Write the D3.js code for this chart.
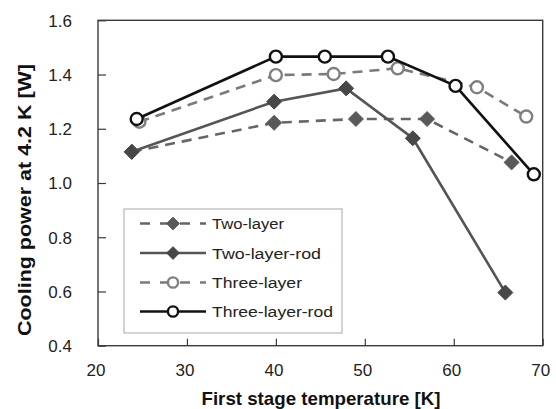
<!DOCTYPE html>
<html>
<head>
<meta charset="utf-8">
<script src="https://cdn.jsdelivr.net/npm/d3@7/dist/d3.min.js"></script>
<style>
  html, body { margin: 0; padding: 0; background: #fff; }
  svg { display: block; font-family: "Liberation Sans", Arial, sans-serif; }
</style>
</head>
<body>
<svg id="chart" width="556" height="409"></svg>
<script>
// Cooling power at 4.2 K versus first stage temperature
const twoLayerT   = [23.8, 39.8, 49.0, 57.0, 66.5];
const twoLayerP   = [1.115, 1.222, 1.236, 1.236, 1.076];
const twoRodT     = [23.8, 39.8, 47.9, 55.4, 65.8];
const twoRodP     = [1.115, 1.300, 1.349, 1.165, 0.596];
const threeLayerT = [24.65, 40.0, 46.5, 53.7, 62.6, 68.15];
const threeLayerP = [1.226, 1.398, 1.402, 1.423, 1.353, 1.245];
const threeRodT   = [24.35, 40.0, 45.5, 52.6, 60.2, 69.0];
const threeRodP   = [1.236, 1.466, 1.466, 1.466, 1.358, 1.032];

const xTicks = [20, 30, 40, 50, 60, 70];
const yTicks = [0.4, 0.6, 0.8, 1.0, 1.2, 1.4, 1.6];

const seriesNames = ["Two-layer", "Two-layer-rod", "Three-layer", "Three-layer-rod"];

const series = [
  { name: seriesNames[0], t: twoLayerT, p: twoLayerP, line: "#666", dash: "10,7", marker: "diamond", fill: "#595959", stroke: "#595959" },
  { name: seriesNames[1], t: twoRodT, p: twoRodP, line: "#555", dash: null, marker: "diamond", fill: "#474747", stroke: "#474747" },
  { name: seriesNames[2], t: threeLayerT, p: threeLayerP, line: "#7a7a7a", dash: "10,7", marker: "circle", fill: "#fff", stroke: "#7f7f7f" },
  { name: seriesNames[3], t: threeRodT, p: threeRodP, line: "#111", dash: null, marker: "circle", fill: "#fff", stroke: "#111" }
];

const svg = d3.select("#chart");
const L = 98, R = 542.7, T = 20.3, B = 345.7;

const x = d3.scaleLinear().domain([20, 70]).range([L, R]);
const y = d3.scaleLinear().domain([0.4, 1.6]).range([B, T]);

// Frame
svg.append("rect")
  .attr("x", L).attr("y", T).attr("width", R - L).attr("height", B - T)
  .attr("fill", "none").attr("stroke", "#3a3a3a").attr("stroke-width", 1.4);

// Y axis: inward ticks, labels on the left
const yAxis = d3.axisLeft(y).tickValues(yTicks).tickFormat(d3.format(".1f"))
  .tickSizeInner(-8).tickSizeOuter(0).tickPadding(26);
const gy = svg.append("g").attr("transform", `translate(${L},0)`).call(yAxis);
gy.select(".domain").remove();
gy.selectAll(".tick line").attr("stroke", "#3a3a3a").attr("stroke-width", 1.2);
gy.selectAll(".tick text").attr("fill", "#222").style("font-size", "17px").attr("dy", "0.34em");

// X axis: inward ticks, labels below
const xAxis = d3.axisBottom(x).tickValues(xTicks).tickFormat(d3.format("d"))
  .tickSizeInner(-7).tickSizeOuter(0).tickPadding(18);
const gx = svg.append("g").attr("transform", `translate(0,${B})`).call(xAxis);
gx.select(".domain").remove();
gx.selectAll(".tick line").attr("stroke", "#3a3a3a").attr("stroke-width", 1.2);
gx.selectAll(".tick text").attr("fill", "#222").style("font-size", "17px").attr("dx", "-2.5");

// Axis titles
svg.append("text")
  .attr("x", 321).attr("y", 405)
  .attr("text-anchor", "middle")
  .attr("textLength", 239).attr("lengthAdjust", "spacingAndGlyphs")
  .style("font-size", "19px").style("font-weight", "bold").attr("fill", "#111")
  .text("First stage temperature [K]");

svg.append("text")
  .attr("transform", "translate(31,200) rotate(-90)")
  .attr("text-anchor", "middle")
  .attr("textLength", 272).attr("lengthAdjust", "spacingAndGlyphs")
  .style("font-size", "19px").style("font-weight", "bold").attr("fill", "#111")
  .text("Cooling power at 4.2 K [W]");

// Markers
function drawMarker(g, s, cx, cy, k = 1) {
  if (s.marker === "diamond") {
    const r = 7.5 * k;
    g.append("path")
      .attr("d", `M${cx},${cy - r}L${cx + r},${cy}L${cx},${cy + r}L${cx - r},${cy}Z`)
      .attr("fill", s.fill).attr("stroke", s.stroke).attr("stroke-width", 1);
  } else {
    g.append("circle").attr("cx", cx).attr("cy", cy).attr("r", 6 * k)
      .attr("fill", s.fill).attr("stroke", s.stroke).attr("stroke-width", 2.4);
  }
}

const line = d3.line().x(d => x(d[0])).y(d => y(d[1]));

series.forEach(s => {
  const pts = s.t.map((t, i) => [t, s.p[i]]);
  const g = svg.append("g");
  g.append("path").attr("d", line(pts))
    .attr("fill", "none").attr("stroke", s.line).attr("stroke-width", 2.6)
    .attr("stroke-dasharray", s.dash);
  pts.forEach(d => drawMarker(g, s, x(d[0]), y(d[1])));
});

// Legend
const lg = svg.append("g");
lg.append("rect").attr("x", 124).attr("y", 209).attr("width", 218).attr("height", 124)
  .attr("fill", "#fff").attr("stroke", "#a8a8a8").attr("stroke-width", 1);
const rowY = [223.5, 253, 282.5, 311.5];
const textLen = [72, 109, 90, 121];
series.forEach((s, i) => {
  const yy = rowY[i];
  lg.append("line").attr("x1", 140).attr("x2", 206).attr("y1", yy).attr("y2", yy)
    .attr("stroke", s.line).attr("stroke-width", 2.6)
    .attr("stroke-dasharray", s.dash ? "10,10" : null);
  drawMarker(lg, s, 173, yy, 0.85);
  lg.append("text").attr("x", 212).attr("y", yy + 5.5)
    .attr("textLength", textLen[i]).attr("lengthAdjust", "spacingAndGlyphs")
    .style("font-size", "15.5px").attr("fill", "#222").text(s.name);
});
</script>
</body>
</html>
